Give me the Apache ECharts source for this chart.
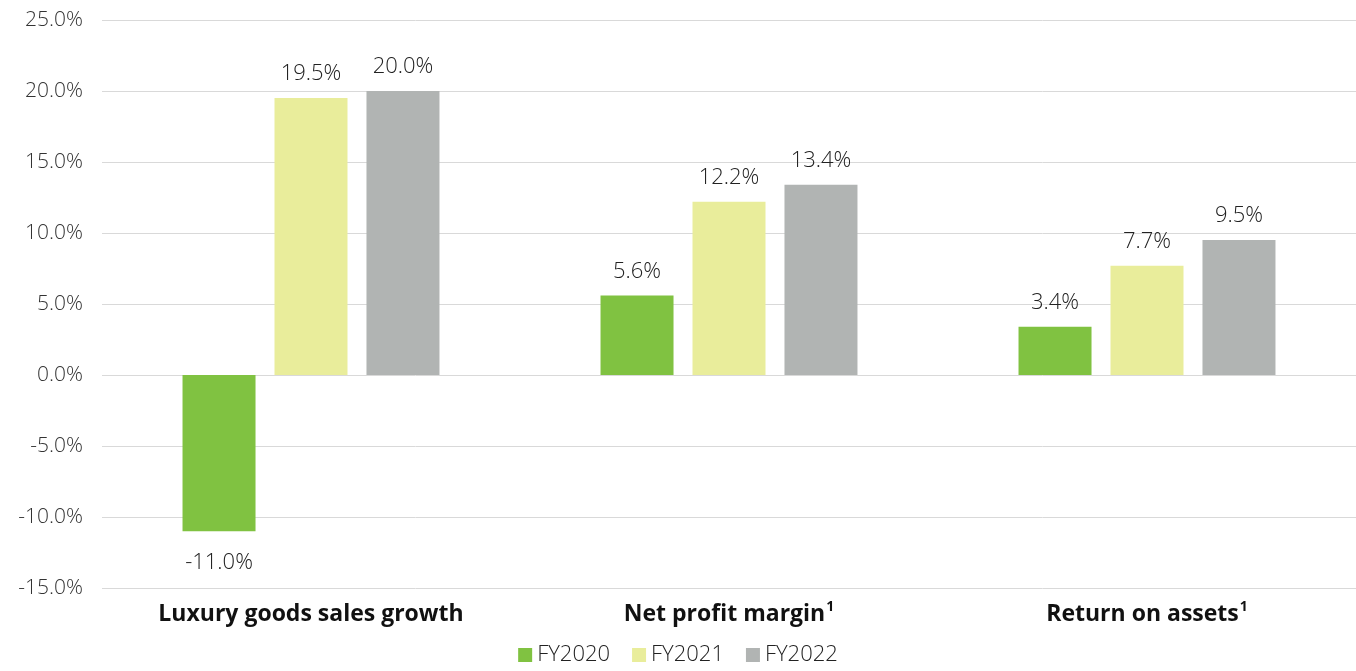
<!DOCTYPE html>
<html>
<head>
<meta charset="utf-8">
<script src="https://cdn.jsdelivr.net/npm/echarts@6/dist/echarts.min.js"></script>
<style>
  html, body { margin: 0; padding: 0; background: #fff; }
  #main { width: 1356px; height: 671px; }
</style>
</head>
<body>
<div id="main"></div>
<script>
// data
var categories = ['Luxury goods sales growth', 'Net profit margin', 'Return on assets'];
var hasNote = [false, true, true];
var fy2020 = [-11.0, 5.6, 3.4];
var fy2021 = [19.5, 12.2, 7.7];
var fy2022 = [20.0, 13.4, 9.5];
var seriesNames = ['FY2020', 'FY2021', 'FY2022'];
var colors = ['#80c241', '#e9ed9b', '#b1b4b3'];

var chart = echarts.init(document.getElementById('main'));
var font = '"Open Sans", sans-serif';

function makeSeries(name, data, color) {
  return {
    name: name,
    type: 'bar',
    // labels under negative bars sit a bit further away
    data: data.map(function (v) {
      return v < 0 ? { value: v, label: { distance: 21 } } : v;
    }),
    barWidth: 73,
    barGap: '26%',
    itemStyle: { color: color },
    label: {
      show: true,
      position: 'outside',
      distance: 13,
      formatter: function (p) { return p.value.toFixed(1) + '%'; },
      color: '#222',
      fontSize: 22,
      fontWeight: 300,
      fontFamily: font
    }
  };
}

var option = {
  animation: false,
  textStyle: { fontFamily: font },
  grid: { left: 102, right: 0, top: 20, bottom: 83, containLabel: false },
  legend: {
    bottom: 0,
    left: 'center',
    itemWidth: 14,
    itemHeight: 14,
    itemGap: 22,
    icon: 'rect',
    textStyle: { fontSize: 22, fontWeight: 300, color: '#222', fontFamily: font },
    data: seriesNames
  },
  xAxis: {
    type: 'category',
    data: categories,
    axisLine: { show: false, onZero: false },
    axisTick: { show: false },
    axisLabel: {
      margin: 11,
      formatter: function (v, i) {
        return hasNote[i] ? '{b|' + v + '}{s|1}' : '{b|' + v + '}';
      },
      rich: {
        b: { fontSize: 23, fontWeight: 'bold', color: '#111', fontFamily: font, lineHeight: 30 },
        s: { fontSize: 14, fontWeight: 'bold', color: '#111', fontFamily: font, lineHeight: 16, verticalAlign: 'bottom', padding: [0, 0, 15, 1] }
      }
    }
  },
  yAxis: {
    type: 'value',
    min: -15,
    max: 25,
    interval: 5,
    axisLine: { show: false },
    axisTick: { show: false },
    splitLine: { lineStyle: { color: '#d9d9d9', width: 1 } },
    axisLabel: {
      margin: 19,
      fontSize: 21,
      fontWeight: 300,
      color: '#333',
      fontFamily: font,
      formatter: function (v) { return v.toFixed(1) + '%'; }
    }
  },
  series: [
    makeSeries(seriesNames[0], fy2020, colors[0]),
    makeSeries(seriesNames[1], fy2021, colors[1]),
    makeSeries(seriesNames[2], fy2022, colors[2])
  ]
};
chart.setOption(option);
</script>
</body>
</html>
